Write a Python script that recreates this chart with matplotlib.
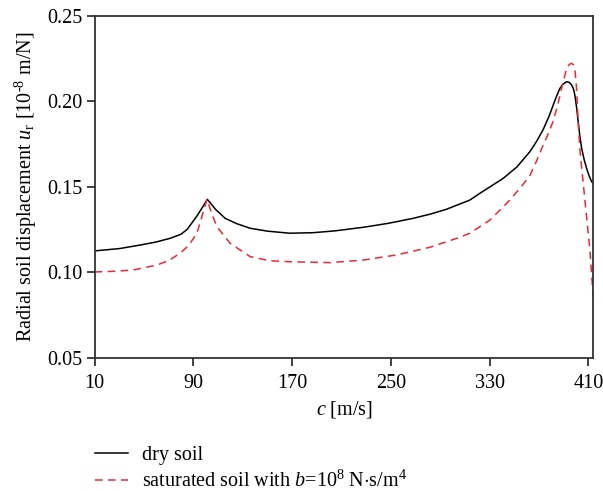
import numpy as np
import matplotlib
matplotlib.use("Agg")
import matplotlib.pyplot as plt

plt.rcParams['font.family'] = ['Liberation Serif', 'DejaVu Serif']
plt.rcParams['mathtext.fontset'] = 'custom'
plt.rcParams['mathtext.rm'] = 'Liberation Serif'
plt.rcParams['mathtext.it'] = 'Liberation Serif:italic'

# dry soil
c_dry = [10, 12, 30, 47, 60, 71, 80, 85, 93, 101.3, 108, 115.7, 125, 136, 150, 168,
         187, 205, 228, 248, 268, 282, 295, 314, 322, 341, 352, 362.6, 368, 373.4,
         378, 381.5, 384.5, 386.9, 389.5, 392.3, 394.5, 396.4, 398, 399, 400.4,
         401.7, 403, 404.5, 406.5, 408.5, 410.5, 412.6, 414]
u_dry = [0.1125, 0.1126, 0.1138, 0.1159, 0.1177, 0.1198, 0.1222, 0.1251, 0.1330, 0.1426,
         0.1367, 0.1315, 0.1284, 0.1257, 0.1240, 0.1228, 0.1231, 0.1242, 0.1263, 0.1286,
         0.1315, 0.1340, 0.1368, 0.1422, 0.1461, 0.1549, 0.1615, 0.1705, 0.1765, 0.1835,
         0.1910, 0.1978, 0.2035, 0.2075, 0.2100, 0.2114, 0.2110, 0.2095, 0.2070, 0.2036,
         0.1965, 0.1880, 0.1800, 0.1725, 0.1660, 0.1608, 0.1565, 0.1529, 0.1520]

# saturated soil, b = 1e8 N s/m^4
c_sat = [10, 12, 25, 41.4, 60.4, 70, 79.2, 86, 92.8, 101, 105, 109, 119.7, 136, 152,
         168, 200.7, 227.7, 254.7, 281.7, 303.3, 314, 330.3, 346.4, 355, 362.6, 368,
         373.4, 377.5, 381.5, 385, 388.3, 390.5, 392.3, 394.5, 396.4, 398, 399, 400.4,
         401.7, 403.1, 405.8, 408.5, 411.2, 413.1, 414]
u_sat = [0.1000, 0.1002, 0.1005, 0.1013, 0.1042, 0.1068, 0.1111, 0.1155, 0.1227, 0.1426,
         0.1340, 0.1266, 0.1169, 0.1091, 0.1067, 0.1061, 0.1056, 0.1071, 0.1101, 0.1146,
         0.1198, 0.1228, 0.1305, 0.1422, 0.1495, 0.1565, 0.1650, 0.1745, 0.1810, 0.1885,
         0.1975, 0.2075, 0.2140, 0.2192, 0.2215, 0.2222, 0.2212, 0.2192, 0.2075, 0.1880,
         0.1715, 0.1520, 0.1325, 0.1130, 0.0935, 0.0837]

x_ticks = [10, 90, 170, 250, 330, 410]
y_ticks = [0.05, 0.10, 0.15, 0.20, 0.25]

fig = plt.figure(figsize=(6.03, 4.91), dpi=100)
ax = fig.add_axes([0.157, 0.2715, 0.827, 0.6965])

ax.plot(c_dry, u_dry, color='black', lw=1.1, label='dry soil')
ax.plot(c_sat, u_sat, color='#e8283c', lw=1.1, ls=(0, (5, 3.5)),
        label=r'saturated soil with $b$=10$^8$ N$\cdot$s/m$^4$')

ax.set_xlim(10, 414)
ax.set_ylim(0.05, 0.25)
ax.set_xticks(x_ticks)
ax.set_yticks(y_ticks)
ax.set_yticklabels(['%.2f' % v for v in y_ticks])
ax.tick_params(direction='out', length=6, width=1.3, color='#333333',
               labelsize=14.5, pad=3)
ax.tick_params(axis='x', pad=6)
for s in ax.spines.values():
    s.set_color('#333333')
    s.set_linewidth(1.3)

ax.set_xlabel(r'$c$ [m/s]', fontsize=14.5, labelpad=4)
ax.set_ylabel('Radial soil displacement $u_{\\mathrm{r}}$ [10$^{\\mathrm{\u20108}}$ m/N]',
              fontsize=14.5, labelpad=6)

h, l = ax.get_legend_handles_labels()
fig.legend(h, l, loc='upper left', bbox_to_anchor=(0.157, 0.092), borderaxespad=0,
           borderpad=0, frameon=False, fontsize=14.5, handlelength=1.65,
           handletextpad=0.7, labelspacing=0.3)

fig.savefig('out.png', dpi=100)
